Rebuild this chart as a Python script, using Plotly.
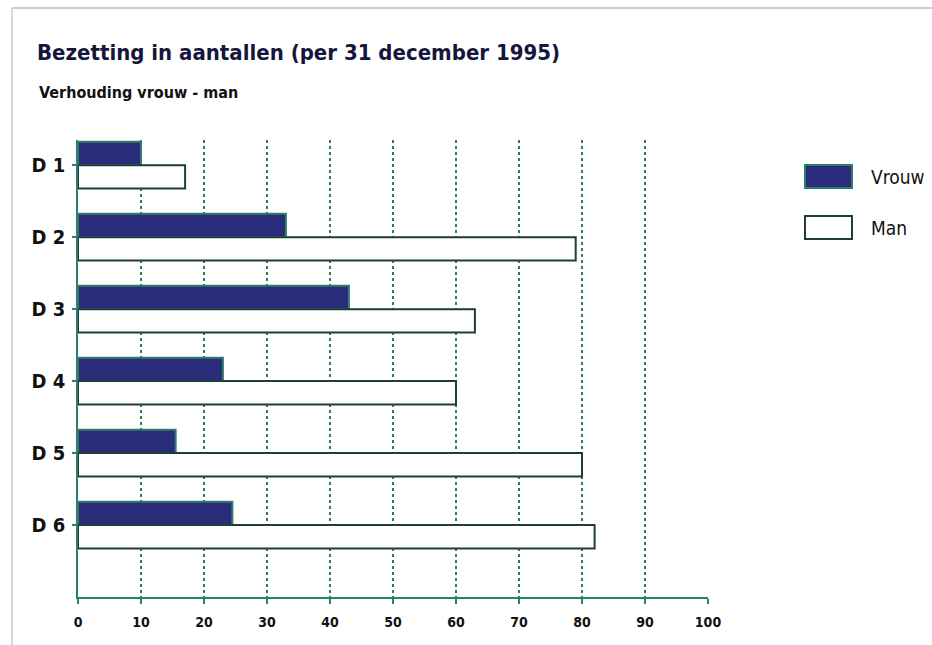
import plotly.graph_objects as go

categories = ["D 1", "D 2", "D 3", "D 4", "D 5", "D 6"]
vrouw = [10, 33, 43, 23, 15.5, 24.5]
man = [17, 79, 63, 60, 80, 82]
x_ticks = [0, 10, 20, 30, 40, 50, 60, 70, 80, 90, 100]
series_names = ["Vrouw", "Man"]

NAVY = "#2b2b7c"
TEAL = "#2f7d6b"
DARK = "#1d3f35"
GRID = "#2f7a66"
NARROW = "DejaVu Sans Condensed, Liberation Sans Narrow, Liberation Sans, sans-serif"

pos = list(range(len(categories)))

fig = go.Figure()
fig.add_trace(go.Bar(
    y=pos, x=vrouw, orientation="h", name=series_names[0],
    marker=dict(color=NAVY, line=dict(color=TEAL, width=2)),
    showlegend=False,
))
fig.add_trace(go.Bar(
    y=pos, x=man, orientation="h", name=series_names[1],
    marker=dict(color="white", line=dict(color=DARK, width=2)),
    showlegend=False,
))

L, R, T, B = 78, 932 - 708, 140, 645 - 597
W, H = 932, 645

fig.update_layout(
    width=W, height=H,
    barmode="group", bargap=0.35, bargroupgap=0,
    plot_bgcolor="white", paper_bgcolor="white",
    margin=dict(l=L, r=R, t=T, b=B),
    title=dict(
        text="Bezetting in aantallen (per 31 december 1995)",
        xref="container", yref="container",
        x=37 / W, y=1 - 52 / H, xanchor="left", yanchor="middle",
        font=dict(family=NARROW, size=22, color="#16163c", weight="bold"),
    ),
    xaxis=dict(
        range=[0, 100], tickvals=x_ticks, ticktext=[str(v) for v in x_ticks],
        showgrid=True, gridcolor=GRID, griddash="dot", gridwidth=1.5,
        showline=True, linecolor=TEAL, linewidth=1.5,
        ticks="outside", ticklen=5, tickcolor=TEAL, tickwidth=1.5,
        zeroline=False, ticklabelstandoff=6,
        tickfont=dict(family=NARROW, size=14, color="#111111", weight="bold"),
    ),
    yaxis=dict(
        range=[6.0, -0.35], tickvals=pos, ticktext=categories,
        showgrid=False, showline=True, linecolor=TEAL, linewidth=1.5,
        ticks="outside", ticklen=4, tickcolor=TEAL, tickwidth=1.5,
        zeroline=False, ticklabelstandoff=3,
        tickfont=dict(family=NARROW, size=20, color="#111111", weight="bold"),
    ),
)

# subtitle
fig.add_annotation(
    text="Verhouding vrouw - man", xref="paper", yref="paper",
    x=(37 - L) / 630, y=(597 - 92) / 457, xanchor="left", yanchor="middle",
    showarrow=False,
    font=dict(family=NARROW, size=16, color="#111111", weight="bold"),
)

def px_x(p):
    return (p - L) / 630

def px_y(p):
    return (597 - p) / 457

legend_items = [
    (series_names[0], NAVY, TEAL, 165, 188),
    (series_names[1], "white", DARK, 216, 239),
]
for name, fill, edge, ytop, ybot in legend_items:
    fig.add_shape(type="rect", xref="paper", yref="paper",
                  x0=px_x(805), x1=px_x(852), y0=px_y(ybot), y1=px_y(ytop),
                  fillcolor=fill, line=dict(color=edge, width=2))
    fig.add_annotation(text=name, xref="paper", yref="paper",
                       x=px_x(869), y=px_y((ytop + ybot) / 2),
                       xanchor="left", yanchor="middle", showarrow=False,
                       font=dict(family=NARROW, size=19, color="#111111"))

# scan frame lines
fig.add_shape(type="line", xref="paper", yref="paper",
              x0=px_x(12), x1=px_x(932), y0=px_y(8), y1=px_y(8),
              line=dict(color="#b8bcc8", width=1.5))
fig.add_shape(type="line", xref="paper", yref="paper",
              x0=px_x(12), x1=px_x(12), y0=px_y(8), y1=px_y(645),
              line=dict(color="#c8ccd4", width=1.5))

fig.write_html("out.html", config={"displayModeBar": False},
               post_script="document.body.style.margin='0';")
